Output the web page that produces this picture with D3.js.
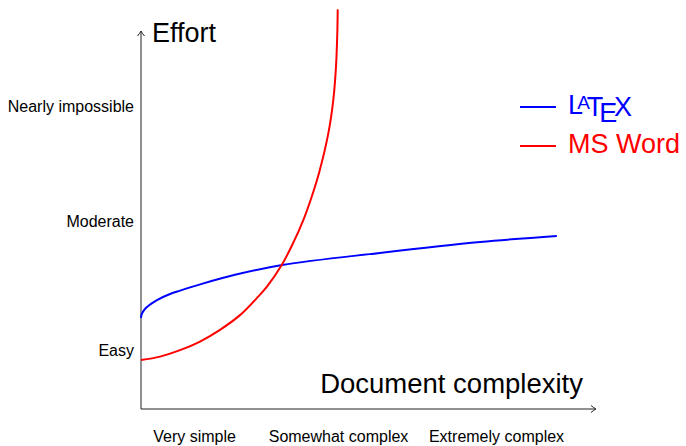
<!DOCTYPE html>
<html>
<head>
<meta charset="utf-8">
<script src="https://cdn.jsdelivr.net/npm/d3@7"></script>
<style>
  body { margin: 0; background: #fff; }
  svg text { font-family: "Liberation Sans", Arial, sans-serif; fill: #000; }
</style>
</head>
<body>
<div id="chart"></div>
<script>
// values (arbitrary effort / complexity units)
var latexX = [0, 0.009, 0.033, 0.077, 0.132, 0.22, 0.352, 0.64, 0.86, 1.34, 2.07, 3.11, 5.26, 7.47, 9.16];
var latexY = [2.414, 2.488, 2.560, 2.637, 2.706, 2.790, 2.891, 3.05, 3.14, 3.32, 3.56, 3.82, 4.14, 4.43, 4.59];
var wordX = [0, 0.42, 0.86, 1.30, 1.74, 2.18, 2.58, 2.77, 3.10, 3.35, 3.575, 3.76, 3.93, 4.126, 4.236, 4.295, 4.324, 4.333];
var wordY = [1.30, 1.39, 1.56, 1.79, 2.10, 2.49, 2.98, 3.24, 3.82, 4.40, 5.01, 5.63, 6.30, 7.31, 8.20, 9.08, 9.97, 10.60];
var xTickVals = [1.17, 4.34, 7.82];
var xTickLabels = ["Very simple", "Somewhat complex", "Extremely complex"];
var yTickVals = [1.56, 4.99, 8.04];
var yTickLabels = ["Easy", "Moderate", "Nearly impossible"];

var width = 686, height = 446;
var x = d3.scaleLinear().domain([0, 10]).range([141, 595]);
var y = d3.scaleLinear().domain([0, 10]).range([409, 32]);

var svg = d3.select("#chart").append("svg")
    .attr("width", width)
    .attr("height", height);

// arrow head like pgf "to"
var defs = svg.append("defs");
defs.append("marker")
    .attr("id", "arrow")
    .attr("viewBox", "-6 -5 8 10")
    .attr("markerWidth", 8).attr("markerHeight", 10)
    .attr("markerUnits", "userSpaceOnUse")
    .attr("orient", "auto")
    .append("path")
    .attr("d", "M-4,-3.5 Q-1,-1 1,0 Q-1,1 -4,3.5")
    .attr("fill", "none")
    .attr("stroke", "#222")
    .attr("stroke-width", 1);

// axis lines
svg.append("line")
    .attr("x1", x(0)).attr("y1", y(0))
    .attr("x2", x(10)).attr("y2", y(0))
    .attr("stroke", "#222").attr("stroke-width", 1)
    .attr("marker-end", "url(#arrow)");
svg.append("line")
    .attr("x1", x(0)).attr("y1", y(0))
    .attr("x2", x(0)).attr("y2", y(10))
    .attr("stroke", "#222").attr("stroke-width", 1)
    .attr("marker-end", "url(#arrow)");

// tick labels through d3 axes
var xAxis = svg.append("g")
    .attr("transform", "translate(0," + (y(0) + 19) + ")")
    .call(d3.axisBottom(x).tickValues(xTickVals)
        .tickFormat(function(d, i) { return xTickLabels[i]; })
        .tickSize(0));
xAxis.select(".domain").remove();
xAxis.selectAll("text").attr("font-size", "16px").attr("dy", "0.71em")
    .style("font-family", "Liberation Sans, Arial, sans-serif").attr("fill", "#000");

var yAxis = svg.append("g")
    .attr("transform", "translate(" + (x(0) - 7) + ",0)")
    .call(d3.axisLeft(y).tickValues(yTickVals)
        .tickFormat(function(d, i) { return yTickLabels[i]; })
        .tickSize(0).tickPadding(0));
yAxis.select(".domain").remove();
yAxis.selectAll("text").attr("font-size", "16px")
    .style("font-family", "Liberation Sans, Arial, sans-serif").attr("fill", "#000");

// axis titles
svg.append("text")
    .attr("x", 152).attr("y", 42)
    .attr("font-size", "27px")
    .text("Effort");
svg.append("text")
    .attr("x", 583).attr("y", 393)
    .attr("text-anchor", "end")
    .attr("font-size", "27.5px")
    .text("Document complexity");

// curves
var line = d3.line()
    .x(function(d) { return x(d[0]); })
    .y(function(d) { return y(d[1]); })
    .curve(d3.curveCatmullRom.alpha(0.5));

var latex = latexX.map(function(v, i) { return [v, latexY[i]]; });
var word = wordX.map(function(v, i) { return [v, wordY[i]]; });

svg.append("path").datum(latex)
    .attr("d", line)
    .attr("fill", "none").attr("stroke", "#0000ff").attr("stroke-width", 2);
svg.append("path").datum(word)
    .attr("d", line)
    .attr("fill", "none").attr("stroke", "#ff0000").attr("stroke-width", 2);

// legend
var legend = svg.append("g");
legend.append("line")
    .attr("x1", 520).attr("x2", 556).attr("y1", 107).attr("y2", 107)
    .attr("stroke", "#0000ff").attr("stroke-width", 2);
legend.append("line")
    .attr("x1", 520).attr("x2", 556).attr("y1", 146).attr("y2", 146)
    .attr("stroke", "#ff0000").attr("stroke-width", 2);

var logo = legend.append("text")
    .attr("x", 568).attr("y", 114)
    .attr("font-size", "27px")
    .style("fill", "#0000ff");
logo.append("tspan").text("L");
logo.append("tspan").attr("dx", "-0.3em").attr("dy", "-0.28em")
    .attr("font-size", "19px").text("A");
logo.append("tspan").attr("dx", "-0.12em").attr("dy", "0.28em").text("T");
logo.append("tspan").attr("dx", "-0.15em").attr("dy", "0.22em").text("E");
logo.append("tspan").attr("dx", "-0.12em").attr("dy", "-0.22em").text("X");

legend.append("text")
    .attr("x", 568).attr("y", 153)
    .attr("font-size", "27px")
    .style("fill", "#ff0000")
    .text("MS Word");
</script>
</body>
</html>
